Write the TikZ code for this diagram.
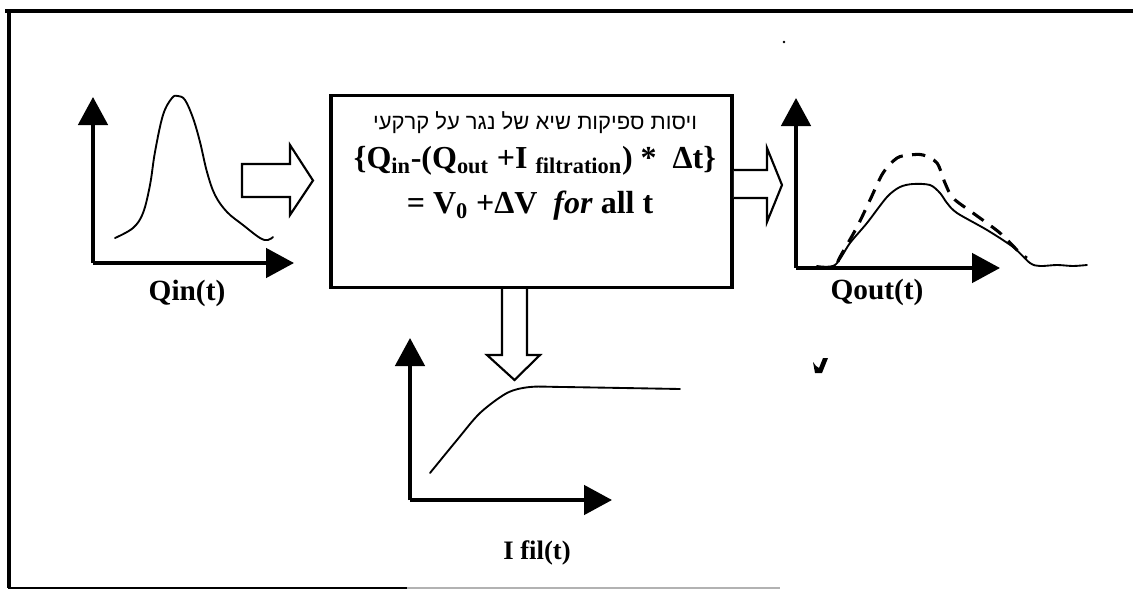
\documentclass[tikz,border=0pt]{standalone}
\usepackage{fontspec}
\setmainfont{Liberation Serif}
\newfontfamily\hebfont[Script=Hebrew]{Liberation Sans}
\TeXXeTstate=1
\usetikzlibrary{arrows.meta}
\tikzset{
  axis/.style={line width=2.8pt, -{Triangle[length=21pt,width=22pt]}},
  curve/.style={line width=1.4pt, line cap=round, line join=round},
  dashcurve/.style={line width=2.3pt, dash pattern=on 10pt off 7pt, line cap=butt, line join=round},
  blockarrow/.style={draw, fill=white, line width=1.6pt, line join=miter},
  eqtext/.style={font=\fontsize{24}{28}\selectfont\bfseries, inner sep=0pt},
  lbl/.style={font=\fontsize{22}{26}\selectfont\bfseries, inner sep=0pt}
}
\begin{document}
\begin{tikzpicture}[x=0.75pt,y=-0.75pt]
\useasboundingbox (0,0) rectangle (1133,589);
% outer frame
\draw[line width=3pt] (5,11) -- (1133,11);
\draw[line width=2.6pt] (9,11) -- (9,588);
\draw[line width=1.3pt] (8,588) -- (407,588);
\draw[line width=1.3pt, gray!60] (407,588) -- (780,588);
\fill (784,42) circle (1pt);
% central box
\node (box) [draw, line width=2.6pt, minimum width=301pt, minimum height=144pt, inner sep=0pt] at (531.5,191.5) {};
\node (heb) [inner sep=0pt, font=\hebfont\fontsize{16.5}{20}\selectfont] at (535,123) {\beginR ויסות ספיקות שיא של נגר על קרקעי\endR};
\node (eq1) [eqtext] at (535,161) {\{Q\textsubscript{in}-(Q\textsubscript{out} +I \textsubscript{filtration}) *\ \ Δt\}};
\node (eq2) [eqtext] at (530,206) {= V\textsubscript{0} +ΔV\ \ \textit{for} all t};
% block arrows
\draw[blockarrow] (242,164) -- (290,164) -- (290,145) -- (313,180.5) -- (290,215) -- (290,197) -- (242,197) -- cycle;
\draw[blockarrow] (box.east |- 0,170) -- (767,170) -- (767,148) -- (782,185) -- (767,222) -- (767,198) -- (box.east |- 0,198);
\draw[blockarrow] (502,0 |- box.south) -- (502,355) -- (487,355) -- (514.5,380) -- (540,355) -- (527,355) -- (527,0 |- box.south);
% left plot
\coordinate (o1) at (93,263);
\draw[axis] (o1) -- (93,97);
\draw[axis] (o1) -- (294,263);
\draw[curve] plot[smooth, tension=0.6] coordinates {(115,238) (133,228) (143,213) (150,185) (155,152) (163,115) (172,98) (178,96) (185,100) (193,118) (200,142) (207,172) (215,195) (227,212) (243,225) (260,238) (268,240) (273,237)};
\node (qin) [lbl] at (187,293) {Qin(t)};
% right plot
\coordinate (o2) at (796,268);
\draw[axis] (o2) -- (796,98);
\draw[axis] (o2) -- (1000,268);
\draw[curve] plot[smooth, tension=0.5] coordinates {(817,266) (835,265) (850,243) (867,223) (887,197) (900,187) (913,184) (930,185) (940,193) (947,203) (957,213) (987,230) (1013,247) (1030,263) (1040,266) (1057,265) (1073,266) (1087,265)};
\draw[dashcurve] plot[smooth, tension=0.5] coordinates {(838,262) (840,257) (857,227) (870,200) (883,173) (897,158) (910,155) (923,155) (937,163) (945,183) (953,198) (973,213) (1000,233) (1020,253) (1027,258)};
\node (qout) [lbl] at (877,292) {Qout(t)};
\fill (813,362) -- (815,373) -- (822,373) -- (828,358) -- (823,358) -- (819,368) -- (816,366) -- cycle;
% bottom plot
\coordinate (o3) at (410,500);
\draw[axis] (o3) -- (410,338);
\draw[axis] (o3) -- (612,500);
\draw[curve] plot[smooth, tension=0.5] coordinates {(430,473) (457,440) (480,413) (507,393) (530,387) (563,387) (680,389)};
\node (ifil) [lbl, font=\fontsize{20}{24}\selectfont\bfseries] at (537,553) {I fil(t)};
\end{tikzpicture}
\end{document}
